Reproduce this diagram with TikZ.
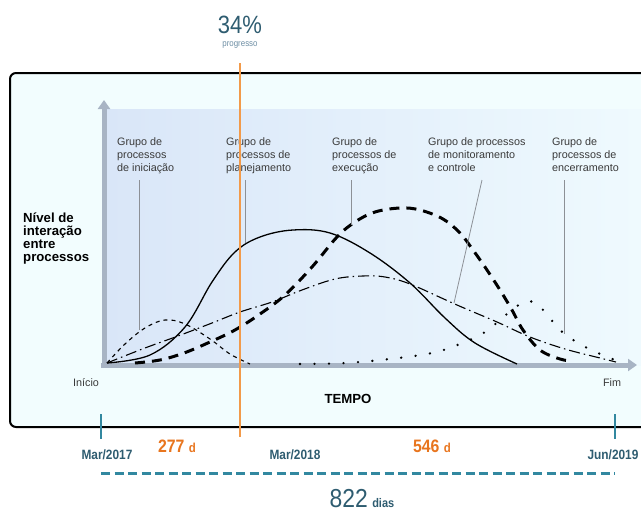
\documentclass[tikz,border=0pt]{standalone}
\usepackage{fontspec}
\setmainfont{Liberation Sans}
\newfontfamily\narrowfont[FakeStretch=0.88]{Liberation Sans}
\usetikzlibrary{arrows.meta}

\definecolor{framebg}{HTML}{F2FDFE}
\definecolor{plotleft}{HTML}{D9E6F8}
\definecolor{plotright}{HTML}{EFFAFE}
\definecolor{axisgray}{HTML}{A8B4C4}
\definecolor{leadergray}{HTML}{8C9096}
\definecolor{labeltext}{HTML}{3A3A3A}
\definecolor{slate}{HTML}{2E5C70}
\definecolor{tealline}{HTML}{3288A0}
\definecolor{progorange}{HTML}{F29A4A}
\definecolor{daysorange}{HTML}{E8751E}
\definecolor{softslate}{HTML}{6D8EA4}

\tikzset{
  grouplabel/.style={anchor=north west, inner sep=0pt, align=left, text=labeltext,
    font=\fontsize{10.8}{13}\selectfont},
  leader/.style={draw=leadergray, line width=0.8pt},
  axisline/.style={draw=axisgray, line width=5pt, -{Triangle[length=9pt,width=12pt]}},
  datelabel/.style={inner sep=0pt, text=slate, font=\narrowfont\bfseries\fontsize{13.5}{14}\selectfont},
  dayslabel/.style={inner sep=0pt, text=daysorange, font=\narrowfont\bfseries\fontsize{18}{18}\selectfont},
  tickmark/.style={draw=tealline, line width=2.6pt},
  planning/.style={line width=1.3pt},
  initiating/.style={line width=1.1pt, dash pattern=on 4pt off 4pt},
  executing/.style={line width=3pt, dash pattern=on 10pt off 7pt},
  monitoring/.style={line width=1.1pt, dash pattern=on 11pt off 4pt on 1.5pt off 4pt},
  closing/.style={line width=2.6pt, line cap=round, dash pattern=on 0pt off 14.5pt}
}

\begin{document}
\begin{tikzpicture}[x=1pt, y=-1pt]
\useasboundingbox (0,0) rectangle (641,514);
\clip (0,0) rectangle (641,514);

% outer panel
\draw[line width=2pt, rounded corners=6pt, fill=framebg] (10,73) rectangle (680,427);

% shaded plot area
\shade[left color=plotleft, right color=plotright] (104,109) rectangle (641,365);

% axes
\coordinate (origin) at (104,367);
\coordinate (ytip) at (104,100);
\coordinate (xstart) at (101,365);
\coordinate (xtip) at (637,365);
\draw[axisline] (origin) -- (ytip);
\draw[axisline] (xstart) -- (xtip);

% process group curves
\draw[planning] plot[smooth, tension=0.6] coordinates {
  (107,363) (150,355) (185,327) (212,282) (235,252) (260,237) (293,230)
  (330,233) (370,253) (410,283) (445,318) (475,343) (517,364)};
\draw[initiating] plot[smooth, tension=0.6] coordinates {
  (107,363) (125,344) (145,328) (165,320) (185,324) (210,339) (230,354) (250,364)};
\draw[monitoring] plot[smooth, tension=0.6] coordinates {
  (107,363) (145,348) (178,336) (212,323) (240,312) (272,302) (302,290)
  (335,279) (363,276) (385,277) (410,284) (457,305) (497,322) (530,337)
  (565,349) (600,358) (616,362)};
\draw[executing] plot[smooth, tension=0.6] coordinates {
  (135,363) (160,360) (184,353) (210,342) (235,330) (260,314) (285,295)
  (312,267) (337,237) (355,222) (375,212) (400,208) (420,210) (443,219)
  (460,233) (473,250) (487,270) (500,290) (512,310) (523,330) (540,350)
  (560,359) (572,361)};
\draw[closing] plot[smooth, tension=0.6] coordinates {
  (300,364) (345,363) (390,359) (432,353) (460,344) (485,332) (507,314)
  (522,303) (533,302) (545,312) (560,330) (578,343) (598,353) (620,362)};

% group labels
\node[grouplabel] (lblinit) at (117,137) {Grupo de\\processos\\de iniciação};
\node[grouplabel] (lblplan) at (226,137) {Grupo de\\processos de\\planejamento};
\node[grouplabel] (lblexec) at (332,137) {Grupo de\\processos de\\execução};
\node[grouplabel] (lblmon)  at (428,137) {Grupo de processos\\de monitoramento\\e controle};
\node[grouplabel] (lblclose) at (552,137) {Grupo de\\processos de\\encerramento};

% leader lines
\coordinate (initA) at (139,180);  \coordinate (initB) at (139,330);
\coordinate (planA) at (245,180);  \coordinate (planB) at (245,243);
\coordinate (execA) at (351,180);  \coordinate (execB) at (351,225);
\coordinate (monA)  at (482,180);  \coordinate (monB)  at (454,303);
\coordinate (closeA) at (564,180); \coordinate (closeB) at (564,334);
\draw[leader] (initA) -- (initB);
\draw[leader] (planA) -- (planB);
\draw[leader] (execA) -- (execB);
\draw[leader] (monA) -- (monB);
\draw[leader] (closeA) -- (closeB);

% axis captions
\node[anchor=north west, inner sep=0pt, align=left, font=\bfseries\fontsize{13.2}{13}\selectfont]
  (ylabel) at (23,213) {Nível de\\interação\\entre\\processos};
\node[text=labeltext, inner sep=0pt, font=\fontsize{10.8}{12}\selectfont] (start) at (86,383) {Início};
\node[text=labeltext, inner sep=0pt, font=\fontsize{10.8}{12}\selectfont] (finish) at (612,383) {Fim};
\node[inner sep=0pt, font=\bfseries\fontsize{13.2}{14}\selectfont] (tempo) at (348,399) {TEMPO};

% progress marker
\coordinate (progtop) at (240,63);
\coordinate (progbot) at (240,437);
\draw[draw=progorange, line width=2pt] (progtop) -- (progbot);
\node[inner sep=0pt, text=slate, font=\narrowfont\fontsize{25}{25}\selectfont] (pct) at (240,25) {34\%};
\node[inner sep=0pt, text=softslate, font=\narrowfont\fontsize{9}{9}\selectfont] (progtxt) at (240,45) {progresso};

% timeline
\coordinate (tickAtop) at (101,414); \coordinate (tickAbot) at (101,439);
\coordinate (tickBtop) at (615,414); \coordinate (tickBbot) at (615,439);
\draw[tickmark] (tickAtop) -- (tickAbot);
\draw[tickmark] (tickBtop) -- (tickBbot);
\node[datelabel] (d1) at (107,455) {Mar/2017};
\node[datelabel] (d2) at (295,455) {Mar/2018};
\node[datelabel] (d3) at (613,455) {Jun/2019};
\node[dayslabel] (elapsed) at (177,446) {277 {\fontsize{13}{13}\selectfont d}};
\node[dayslabel] (remaining) at (432,446) {546 {\fontsize{13}{13}\selectfont d}};
\coordinate (spanA) at (101,473);
\coordinate (spanB) at (615,473);
\draw[draw=tealline, line width=3pt, dash pattern=on 9pt off 4.5pt] (spanA) -- (spanB);
\node[anchor=base, inner sep=0pt, text=slate, font=\narrowfont\fontsize{26}{26}\selectfont] (total) at (362,507)
  {822\,{\bfseries\fontsize{12.5}{12}\selectfont dias}};
\end{tikzpicture}
\end{document}
